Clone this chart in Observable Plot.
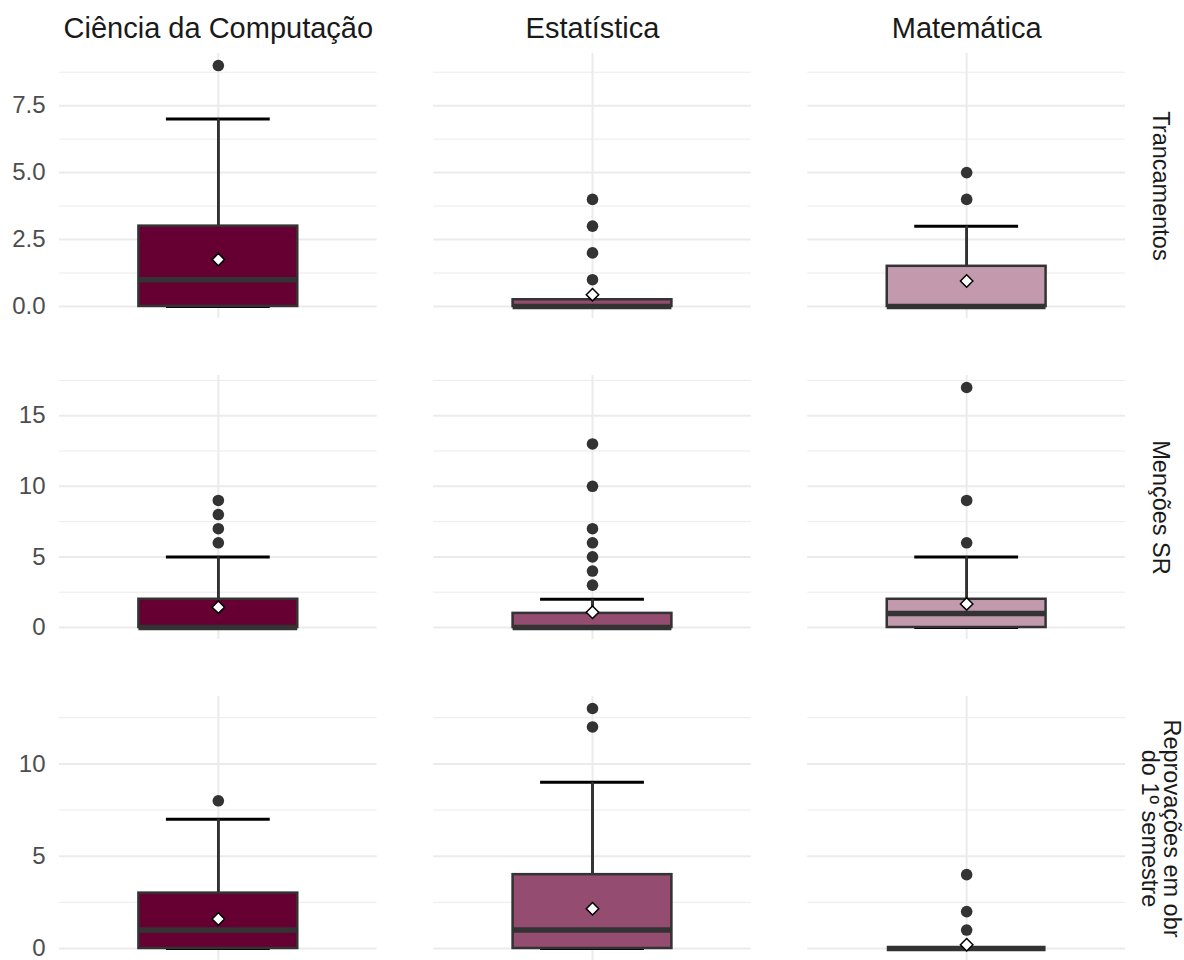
<!DOCTYPE html>
<html>
<head>
<meta charset="utf-8">
<script src="https://cdn.jsdelivr.net/npm/d3@7"></script>
<script src="https://cdn.jsdelivr.net/npm/@observablehq/plot@0.6"></script>
<style>
  body { margin: 0; background: #fff; }
  #chart { width: 1184px; height: 960px; }
  #chart svg { display: block; }
</style>
</head>
<body>
<div id="chart"></div>
<script>
// Courses (columns) and their box fills
const courses = ["Ciência da Computação", "Estatística", "Matemática"];
const courseFills = ["#660033", "#944C70", "#C299AD"];

// Trancamentos
const trancLabel = "Trancamentos";
const trancQ1 = [0, 0, 0];
const trancMedian = [1, 0, 0];
const trancQ3 = [3, 0.25, 1.5];
const trancLower = [0, 0, 0];
const trancUpper = [7, 0, 3];
const trancMean = [1.75, 0.44, 0.95];
const trancOutliers = [[9], [1, 2, 3, 4], [4, 5]];
const trancTicks = [0, 2.5, 5, 7.5];
const trancMinor = [1.25, 3.75, 6.25, 8.75];

// Menções SR
const srLabel = "Menções SR";
const srQ1 = [0, 0, 0];
const srMedian = [0, 0, 1];
const srQ3 = [2, 1, 2];
const srLower = [0, 0, 0];
const srUpper = [5, 2, 5];
const srMean = [1.44, 1.08, 1.67];
const srOutliers = [[6, 7, 8, 9], [3, 4, 5, 6, 7, 10, 13], [6, 9, 17]];
const srTicks = [0, 5, 10, 15];
const srMinor = [2.5, 7.5, 12.5, 17.5];

// Reprovações em obrigatórias do 1º semestre
const repLabel = "Reprovações em obr\ndo 1º semestre";
const repQ1 = [0, 0, 0];
const repMedian = [1, 1, 0];
const repQ3 = [3, 4, 0];
const repLower = [0, 0, 0];
const repUpper = [7, 9, 0];
const repMean = [1.6, 2.15, 0.2];
const repOutliers = [[8], [12, 13], [1, 2, 4]];
const repTicks = [0, 5, 10];
const repMinor = [2.5, 7.5, 12.5];

const FONT = "Liberation Sans, Arial, Helvetica, sans-serif";
const GRID = "#ebebeb";
const box = () => "box"; // single box slot within each panel

function facetRow({label, q1, median, q3, lower, upper, mean, outliers, ticks, minor, format, header, marginTop}) {
  const stats = courses.map((course, i) => ({
    course, q1: q1[i], median: median[i], q3: q3[i], lower: lower[i], upper: upper[i], mean: mean[i]
  }));
  const points = courses.flatMap((course, i) => outliers[i].map((value) => ({course, value})));
  const values = [...stats.flatMap((d) => [d.lower, d.upper, d.q1, d.q3]), ...points.map((d) => d.value)];
  const [lo, hi] = d3.extent(values);
  const pad = (hi - lo) * 0.05;

  const marks = [
    Plot.ruleY(minor, {stroke: GRID, strokeWidth: 1}),
    Plot.ruleY(ticks, {stroke: GRID, strokeWidth: 2}),
    Plot.ruleX(["box"], {x: (d) => d, stroke: GRID, strokeWidth: 2}),
    Plot.axisY(ticks, {
      anchor: "left", tickSize: 0, tickPadding: 14, fontSize: 24, color: "#4d4d4d",
      fontFamily: FONT, tickFormat: format, label: null
    }),
    // error bar with caps
    Plot.ruleX(stats, {fx: "course", x: box, y1: "lower", y2: "upper", stroke: "black", strokeWidth: 2.5}),
    Plot.tickY(stats, {fx: "course", x: box, y: "upper", stroke: "black", strokeWidth: 3, insetLeft: 27.5, insetRight: 27.5}),
    Plot.tickY(stats, {fx: "course", x: box, y: "lower", stroke: "black", strokeWidth: 3, insetLeft: 27.5, insetRight: 27.5}),
    // whiskers
    Plot.ruleX(stats, {fx: "course", x: box, y1: "q3", y2: "upper", stroke: "#333333", strokeWidth: 2.5}),
    Plot.ruleX(stats, {fx: "course", x: box, y1: "lower", y2: "q1", stroke: "#333333", strokeWidth: 2.5}),
    // box and median
    Plot.barY(stats, {fx: "course", x: box, y1: "q1", y2: "q3", fill: "course", stroke: "#333333", strokeWidth: 2.5}),
    Plot.tickY(stats, {fx: "course", x: box, y: "median", stroke: "#333333", strokeWidth: 5.5}),
    // outliers
    Plot.dot(points, {fx: "course", x: box, y: "value", r: 5.8, fill: "#333333", stroke: null}),
    // mean
    Plot.dot(stats, {fx: "course", x: box, y: "mean", symbol: "diamond2", r: 5.6, fill: "white", stroke: "black", strokeWidth: 1.5}),
    // row strip label
    Plot.text([{course: courses[2], label}], {
      fx: "course", text: "label", frameAnchor: "right", dx: 34.5, rotate: 90,
      textAnchor: "middle", lineAnchor: "middle", lineHeight: 0.95,
      fontSize: 23.5, fill: "#1a1a1a", fontFamily: FONT
    })
  ];
  if (header) {
    marks.push(Plot.axisFx({
      anchor: "top", tickSize: 0, tickPadding: 16, fontSize: 29, color: "#1a1a1a",
      fontFamily: FONT, label: null
    }));
  }

  return Plot.plot({
    width: 1184,
    height: marginTop + 264 + (header ? 1 : 0),
    marginTop,
    marginBottom: 0,
    marginLeft: 59,
    marginRight: 59,
    style: {fontFamily: FONT, background: "white", overflow: "visible"},
    fx: {domain: courses, paddingInner: 0.151, paddingOuter: 0, round: false, axis: header ? undefined : null, label: null},
    x: {type: "band", domain: ["box"], padding: 1 / 3, round: false, axis: null},
    y: {domain: [lo - pad, hi + pad], axis: null},
    color: {domain: courses, range: courseFills},
    marks
  });
}

const chart = document.getElementById("chart");
chart.append(
  facetRow({
    label: trancLabel, q1: trancQ1, median: trancMedian, q3: trancQ3, lower: trancLower, upper: trancUpper,
    mean: trancMean, outliers: trancOutliers, ticks: trancTicks, minor: trancMinor,
    format: d3.format(".1f"), header: true, marginTop: 53
  }),
  facetRow({
    label: srLabel, q1: srQ1, median: srMedian, q3: srQ3, lower: srLower, upper: srUpper,
    mean: srMean, outliers: srOutliers, ticks: srTicks, minor: srMinor,
    format: d3.format("d"), header: false, marginTop: 57
  }),
  facetRow({
    label: repLabel, q1: repQ1, median: repMedian, q3: repQ3, lower: repLower, upper: repUpper,
    mean: repMean, outliers: repOutliers, ticks: repTicks, minor: repMinor,
    format: d3.format("d"), header: false, marginTop: 57
  })
);
</script>
</body>
</html>
